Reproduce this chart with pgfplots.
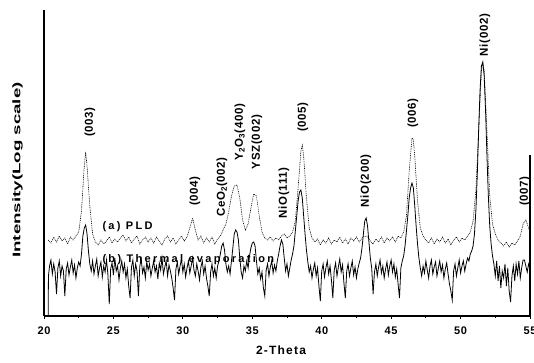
\documentclass[border=0pt]{standalone}
\usepackage{pgfplots}
\pgfplotsset{compat=1.18}
\usepackage{pgfplotstable}
\usepackage{fontspec}
\setmainfont{Liberation Sans}
\newfontfamily\spaced[LetterSpace=21]{Liberation Sans}
\newfontfamily\spacedb[LetterSpace=6]{Liberation Sans}
\newfontfamily\spacedc[LetterSpace=10]{Liberation Sans}

\pgfplotstableread{
x y
20.3 76
20.5 73
20.7 79
20.9 74
21.1 80
21.3 75
21.5 78
21.7 72
21.9 79
22.1 76
22.3 80
22.5 84
22.7 105
22.9 150
23.0 164
23.1 150
23.3 110
23.5 82
23.7 74
23.9 71
24.1 76
24.3 72
24.5 75
24.7 79
24.9 73
25.1 77
25.3 74
25.5 78
25.7 81
25.9 75
26.1 79
26.3 73
26.5 77
26.7 80
26.9 72
27.1 76
27.3 79
27.5 74
27.7 78
27.9 73
28.1 79
28.3 75
28.5 71
28.7 77
28.9 80
29.1 74
29.3 78
29.5 72
29.7 76
29.9 80
30.1 75
30.3 79
30.5 88
30.7 98
30.9 86
31.1 76
31.3 80
31.5 73
31.7 78
31.9 74
32.1 79
32.3 72
32.5 77
32.7 80
32.9 86
33.1 92
33.3 104
33.5 120
33.7 130
33.9 131
34.1 118
34.3 96
34.5 86
34.7 92
34.9 108
35.1 122
35.3 120
35.5 100
35.7 84
35.9 78
36.1 76
36.3 79
36.5 75
36.7 78
36.9 76
37.1 80
37.3 82
37.5 78
37.7 80
37.9 84
38.1 95
38.3 128
38.5 165
38.6 171
38.7 160
38.9 118
39.1 88
39.3 78
39.5 74
39.7 77
39.9 71
40.1 76
40.3 73
40.5 78
40.7 72
40.9 76
41.1 74
41.3 79
41.5 73
41.7 77
41.9 72
42.1 78
42.3 75
42.5 79
42.7 74
42.9 78
43.1 80
43.3 79
43.5 75
43.7 72
43.9 77
44.1 74
44.3 79
44.5 73
44.7 78
44.9 75
45.1 79
45.3 74
45.5 80
45.7 78
45.9 84
46.1 100
46.3 145
46.5 178
46.6 176
46.7 160
46.9 115
47.1 88
47.3 80
47.5 76
47.7 73
47.9 78
48.1 72
48.3 77
48.5 74
48.7 79
48.9 73
49.1 77
49.3 71
49.5 76
49.7 79
49.9 74
50.1 78
50.3 76
50.5 80
50.7 84
50.9 95
51.1 125
51.3 185
51.5 245
51.6 254
51.7 245
51.9 185
52.1 120
52.3 92
52.5 82
52.7 76
52.9 73
53.1 70
53.3 74
53.5 69
53.7 73
53.9 71
54.1 75
54.3 80
54.5 92
54.7 96
54.9 88
55.0 84
}\pld

\pgfplotstableread{
x y
20.30 0
20.32 40
20.4 50
20.5 56
20.6 42
20.7 52
20.8 44
20.9 22
21.0 48
21.1 55
21.2 40
21.3 50
21.4 45
21.5 20
21.6 47
21.7 53
21.8 41
21.9 49
22.0 56
22.1 43
22.2 51
22.3 38
22.4 48
22.5 54
22.6 50
22.7 62
22.8 80
22.9 88
23.0 91
23.1 82
23.2 65
23.3 52
23.4 45
23.5 55
23.6 42
23.7 50
23.8 57
23.9 40
24.0 48
24.1 54
24.2 39
24.3 50
24.4 44
24.5 56
24.6 42
24.7 12
24.8 47
24.9 53
25.0 41
25.1 58
25.2 45
25.3 50
25.4 36
25.5 48
25.6 55
25.7 44
25.8 52
25.9 38
26.0 47
26.1 30
26.2 18
26.3 49
26.4 56
26.5 40
26.6 52
26.7 45
26.8 20
26.9 50
27.0 57
27.1 43
27.2 49
27.3 38
27.4 54
27.5 46
27.6 52
27.7 40
27.8 48
27.9 55
28.0 44
28.1 50
28.2 37
28.3 53
28.4 46
28.5 58
28.6 42
28.7 49
28.8 55
28.9 40
29.0 51
29.1 45
29.2 38
29.3 28
29.4 16
29.5 47
29.6 54
29.7 42
29.8 50
29.9 57
30.0 44
30.1 52
30.2 39
30.3 48
30.4 55
30.5 43
30.6 50
30.7 58
30.8 46
30.9 40
31.0 52
31.1 45
31.2 36
31.3 49
31.4 55
31.5 42
31.6 50
31.7 38
31.8 30
31.9 20
32.0 44
32.1 52
32.2 40
32.3 48
32.4 38
32.5 50
32.6 55
32.7 62
32.8 70
32.9 73
33.0 66
33.1 52
33.2 44
33.3 50
33.4 42
33.5 55
33.6 68
33.7 82
33.8 86
33.9 84
34.0 76
34.1 58
34.2 44
34.3 38
34.4 50
34.5 45
34.6 55
34.7 48
34.8 60
34.9 68
35.0 73
35.1 74
35.2 70
35.3 55
35.4 42
35.5 48
35.6 37
35.7 44
35.8 28
35.9 20
36.0 46
36.1 52
36.2 40
36.3 49
36.4 55
36.5 43
36.6 51
36.7 45
36.8 55
36.9 62
37.0 70
37.1 76
37.2 72
37.3 58
37.4 45
37.5 52
37.6 40
37.7 48
37.8 56
37.9 62
38.0 70
38.1 85
38.2 100
38.3 115
38.4 124
38.5 126
38.6 118
38.7 100
38.8 82
38.9 66
39.0 54
39.1 44
39.2 50
39.3 38
39.4 47
39.5 53
39.6 40
39.7 48
39.8 30
39.9 15
40.0 45
40.1 52
40.2 39
40.3 48
40.4 55
40.5 42
40.6 50
40.7 36
40.8 18
40.9 46
41.0 53
41.1 40
41.2 49
41.3 57
41.4 44
41.5 51
41.6 33
41.7 18
41.8 45
41.9 52
42.0 40
42.1 48
42.2 55
42.3 41
42.4 49
42.5 38
42.6 47
42.7 53
42.8 58
42.9 68
43.0 82
43.1 95
43.2 98
43.3 90
43.4 74
43.5 58
43.6 48
43.7 22
43.8 44
43.9 52
44.0 40
44.1 49
44.2 56
44.3 43
44.4 50
44.5 38
44.6 47
44.7 54
44.8 41
44.9 50
45.0 56
45.1 44
45.2 52
45.3 39
45.4 47
45.5 32
45.6 18
45.7 48
45.8 55
45.9 60
46.0 70
46.1 85
46.2 100
46.3 118
46.4 128
46.5 133
46.6 128
46.7 110
46.8 90
46.9 72
47.0 58
47.1 48
47.2 40
47.3 50
47.4 43
47.5 55
47.6 46
47.7 38
47.8 50
47.9 56
48.0 42
48.1 49
48.2 54
48.3 40
48.4 48
48.5 55
48.6 44
48.7 51
48.8 38
48.9 47
49.0 53
49.1 42
49.2 32
49.3 25
49.4 16
49.5 45
49.6 52
49.7 40
49.8 48
49.9 56
50.0 43
50.1 50
50.2 55
50.3 45
50.4 52
50.5 58
50.6 55
50.7 62
50.8 65
50.9 70
51.0 82
51.1 105
51.2 140
51.3 185
51.4 225
51.5 250
51.6 254
51.7 240
51.8 205
51.9 160
52.0 120
52.1 90
52.2 72
52.3 60
52.4 52
52.5 40
52.6 55
52.7 35
52.8 50
52.9 28
53.0 45
53.1 38
53.2 52
53.3 30
53.4 48
53.5 25
53.6 14
53.7 40
53.8 50
53.9 35
54.0 52
54.1 42
54.2 55
54.3 38
54.4 48
54.5 56
54.6 56
54.7 50
54.8 44
54.9 52
55.0 48
}\therm

\newcommand\lab{\spacedb\bfseries\fontsize{11.5}{13}\selectfont}

\begin{document}
\begin{tikzpicture}
\path[use as bounding box] (-44pt,-47pt) rectangle (490pt,316pt);
\begin{axis}[
  scale only axis, width=486pt, height=306pt,
  xmin=20, xmax=55, ymin=0, ymax=306,
  axis x line=bottom, axis y line=left,
  axis line style={-, line width=1.1pt},
  xtick={20,25,...,55}, minor x tick num=1,
  ytick=\empty,
  tick align=outside, major tick length=3pt, minor tick length=2pt,
  tick style={line width=0.8pt, black},
  xticklabel style={font=\spacedb\bfseries\fontsize{11}{13}\selectfont, yshift=-4pt},
  /pgf/number format/assume math mode=true,
  clip=false,
]
\addplot[black, line width=0.6pt, dash pattern=on 0.9pt off 0.9pt] table[x=x,y=y] {\pld};
\addplot[black, line width=0.8pt] table[x=x,y=y] {\therm};
\draw[line width=1.1pt] (axis cs:55,0) -- (axis cs:55,161);

\node[rotate=90, font=\lab] at (axis cs:23.3,194) {(003)};
\node[rotate=90, font=\lab] at (axis cs:30.87,125) {(004)};
\node[rotate=90, font=\lab] at (axis cs:32.82,129) {CeO\textsubscript{2}(002)};
\node[rotate=90, font=\lab] at (axis cs:34.11,184) {Y\textsubscript{2}O\textsubscript{3}(400)};
\node[rotate=90, font=\lab] at (axis cs:35.34,174) {YSZ(002)};
\node[rotate=90, font=\lab] at (axis cs:37.28,123) {NiO(111)};
\node[rotate=90, font=\lab] at (axis cs:38.65,199) {(005)};
\node[rotate=90, font=\lab] at (axis cs:43.19,135) {NiO(200)};
\node[rotate=90, font=\lab] at (axis cs:46.57,203) {(006)};
\node[rotate=90, font=\lab] at (axis cs:51.76,281) {Ni(002)};
\node[rotate=90, font=\lab] at (axis cs:54.64,125) {(007)};

\node[anchor=west, inner sep=0pt, font=\spaced\bfseries\fontsize{11}{13}\selectfont] at (axis cs:24.2,89) {(a) PLD};
\node[anchor=west, inner sep=0pt, font=\spaced\bfseries\fontsize{11}{13}\selectfont] at (axis cs:24.2,56) {(b) Thermal evaporation};

\node[font=\spacedc\bfseries\fontsize{12}{14}\selectfont] at (axis cs:37.07,-34) {2-Theta};
\node[rotate=90] at (axis cs:18.1,146) {\scalebox{1.7}[1]{\bfseries\fontsize{11}{13}\selectfont Intensity(Log scale)}};
\end{axis}
\end{tikzpicture}
\end{document}
